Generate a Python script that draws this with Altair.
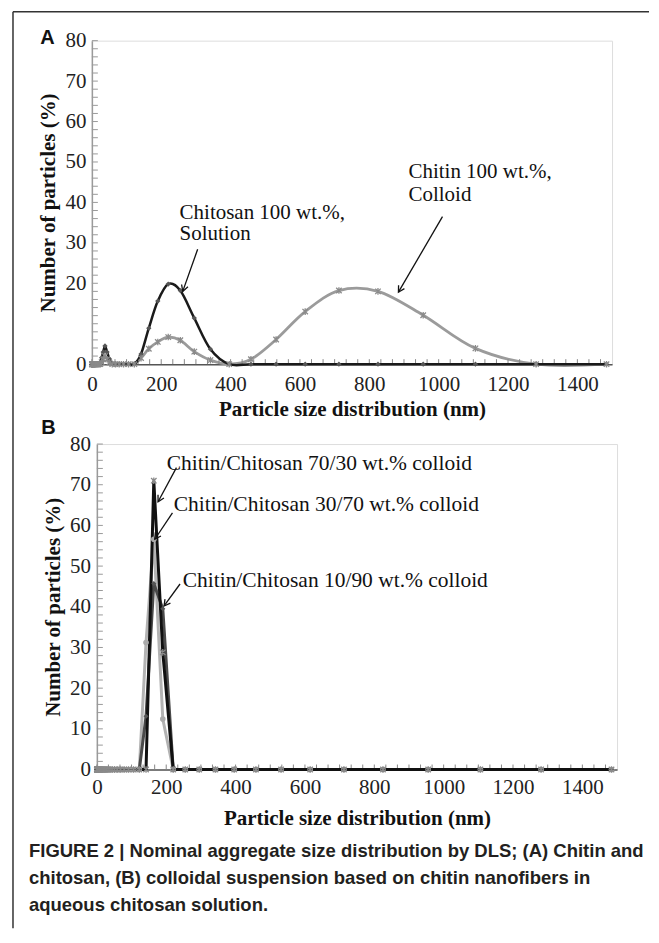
import altair as alt
import pandas as pd

# ---------------- data ----------------
sizes = [0.4, 0.4632, 0.5365, 0.6213, 0.7195, 0.8332, 0.9649, 1.117, 1.294, 1.499,
         1.736, 2.010, 2.328, 2.696, 3.122, 3.615, 4.187, 4.849, 5.615, 6.503,
         7.531, 8.721, 10.10, 11.70, 13.54, 15.69, 18.17, 21.04, 24.36, 28.21,
         32.67, 37.84, 43.82, 50.75, 58.77, 68.06, 78.82, 91.28, 105.7, 122.4,
         141.8, 164.2, 190.1, 220.2, 255.0, 295.3, 342.0, 396.1, 458.7, 531.2,
         615.1, 712.4, 825.0, 955.4, 1106, 1281, 1484]

chitosan_100 = [0, 0, 0, 0, 0, 0, 0, 0, 0, 0,
                0, 0, 0, 0, 0, 0, 0, 0, 0, 0,
                0, 0, 0, 0, 0, 0, 0, 0, 0.5, 1.6,
                3.0, 4.5, 3.0, 1.3, 0.2, 0, 0, 0, 0, 0,
                2.5, 8.9, 15.6, 19.8, 18.2, 11.4, 3.7, 0, 0, 0,
                0, 0, 0, 0, 0, 0, 0]
chitin_100 = [0, 0, 0, 0, 0, 0, 0, 0, 0, 0,
              0, 0, 0, 0, 0, 0, 0, 0, 0, 0,
              0, 0, 0, 0, 0, 0, 0, 0, 0, 0.5,
              1.2, 2.0, 1.2, 0.4, 0, 0, 0, 0, 0, 0,
              1.5, 3.8, 5.5, 6.7, 5.9, 3.1, 1.0, 0, 1.2, 6.1,
              13.0, 18.2, 18.0, 12.1, 3.9, 0, 0]

mix_70_30 = [0, 0, 0, 0, 0, 0, 0, 0, 0, 0,
             0, 0, 0, 0, 0, 0, 0, 0, 0, 0,
             0, 0, 0, 0, 0, 0, 0, 0, 0, 0,
             0, 0, 0, 0, 0, 0, 0, 0, 0, 0,
             0, 71.0, 28.8, 0, 0, 0, 0, 0, 0, 0,
             0, 0, 0, 0, 0, 0, 0]
mix_30_70 = [0, 0, 0, 0, 0, 0, 0, 0, 0, 0,
             0, 0, 0, 0, 0, 0, 0, 0, 0, 0,
             0, 0, 0, 0, 0, 0, 0, 0, 0, 0,
             0, 0, 0, 0, 0, 0, 0, 0, 0, 0,
             31.2, 56.6, 12.4, 0, 0, 0, 0, 0, 0, 0,
             0, 0, 0, 0, 0, 0, 0]
mix_10_90 = [0, 0, 0, 0, 0, 0, 0, 0, 0, 0,
             0, 0, 0, 0, 0, 0, 0, 0, 0, 0,
             0, 0, 0, 0, 0, 0, 0, 0, 0, 0,
             0, 0, 0, 0, 0, 0, 0, 0, 0, 0,
             13.1, 45.7, 39.5, 0, 0, 0, 0, 0, 0, 0,
             0, 0, 0, 0, 0, 0, 0]

x_ticks = [0, 200, 400, 600, 800, 1000, 1200, 1400]
y_ticks = [0, 10, 20, 30, 40, 50, 60, 70, 80]
x_minor = [i * 100 / 3 for i in range(0, 45)]
y_minor = list(range(0, 81, 2))

# annotations (data units)
annA_x = [253, 253, 913, 913]
annA_y = [37.5, 32.1, 47.4, 41.8]
annA_t = ["Chitosan 100 wt.%,", "Solution", "Chitin 100 wt.%,", "Colloid"]
arrA = dict(x=[305, 1011], y=[28.4, 36.5], x2=[262, 884], y2=[18.0, 17.8], ang=[19.6, 30.0])

annB_x = [201.6, 221.7, 247.6]
annB_y = [75.1, 65.0, 46.4]
annB_t = ["Chitin/Chitosan 70/30 wt.% colloid",
          "Chitin/Chitosan 30/70 wt.% colloid",
          "Chitin/Chitosan 10/90 wt.% colloid"]
arrB = dict(x=[229.5, 218.0, 239.8], y=[74.2, 63.1, 45.6],
            x2=[176.5, 167.0, 193.8], y2=[65.8, 56.6, 40.2], ang=[28.4, 33.6, 36.4])

caption = ("FIGURE 2 | Nominal aggregate size distribution by DLS; (A) Chitin and\n"
           "chitosan, (B) colloidal suspension based on chitin nanofibers in\n"
           "aqueous chitosan solution.")

# ---------------- styling helpers ----------------
SERIF = "Liberation Serif"
W = 521
HA = 324
HB = 326
XS = alt.Scale(domain=[0, 1500], nice=False, zero=False)
YS = alt.Scale(domain=[0, 80], nice=False, zero=False)
ASTER = "M-1,-1L1,1M-1,1L1,-1M0,-1.2L0,1.2"
VHEAD = "M-0.55,-1L0,0L0.55,-1"


def series_df(vals):
    return pd.DataFrame({"size": sizes, "pct": vals})


def x_axis(lp, tp):
    return alt.Axis(values=x_ticks, format="d", title="Particle size distribution (nm)", grid=False,
                    ticks=False, labelPadding=lp, titlePadding=tp,
                    labelFont=SERIF, labelFontSize=21, labelColor="#222",
                    titleFont=SERIF, titleFontSize=21, titleFontWeight="bold", titleColor="#111",
                    domainColor="#555", domainWidth=1.5, labelFlush=False, labelOverlap=False)


def y_axis(lp, tp, hide10):
    return alt.Axis(values=y_ticks, format="d", title="Number of particles (%)", grid=False,
                    ticks=False, labelPadding=lp, titlePadding=tp,
                    labelFont=SERIF, labelFontSize=21, labelColor="#222",
                    labelExpr="datum.value == 10 ? '' : datum.label" if hide10 else "datum.label",
                    titleFont=SERIF, titleFontSize=21, titleFontWeight="bold", titleColor="#111",
                    domainColor="#9a9a9a", domainWidth=1.5, labelFlush=False, labelOverlap=False)


def build_panel(h, ax, ay, lines, points, ann_x, ann_y, ann_t, arr, fs, extras):
    X = lambda f: alt.X(f, scale=XS, axis=ax)
    Y = lambda f: alt.Y(f, scale=YS, axis=ay)
    layers = []
    for vals, color, width, interp in lines:
        layers.append(alt.Chart(series_df(vals)).mark_line(
            color=color, strokeWidth=width, interpolate=interp).encode(x=X("size:Q"), y=Y("pct:Q")))
    ym = alt.Chart(pd.DataFrame({"v": y_minor})).mark_rule(color="#9a9a9a", strokeWidth=1).encode(
        y=Y("v:Q"), x=alt.value(0), x2=alt.value(6))
    xm = alt.Chart(pd.DataFrame({"v": x_minor})).mark_rule(color="#888", strokeWidth=1).encode(
        x=X("v:Q"), y=alt.value(h - 5), y2=alt.value(h))
    layers = [layers[0], ym, xm] + layers[1:]
    for vals, color, shape, size, filled, sw in points:
        layers.append(alt.Chart(series_df(vals)).mark_point(
            color=color, shape=shape, size=size, filled=filled, strokeWidth=sw, opacity=1).encode(
            x=X("size:Q"), y=Y("pct:Q")))
    layers.append(alt.Chart(pd.DataFrame({"x": ann_x, "y": ann_y, "t": ann_t})).mark_text(
        align="left", baseline="middle", font=SERIF, fontSize=fs, color="#111").encode(
        x=X("x:Q"), y=Y("y:Q"), text="t:N"))
    adf = pd.DataFrame(arr)
    layers.append(alt.Chart(adf).mark_rule(color="#111", strokeWidth=1.3).encode(
        x=X("x:Q"), y=Y("y:Q"), x2="x2:Q", y2="y2:Q"))
    layers.append(alt.Chart(adf).mark_point(shape=VHEAD, filled=False, size=150, color="#111",
                                            strokeWidth=1.3, opacity=1).encode(
        x=X("x2:Q"), y=Y("y2:Q"), angle=alt.Angle("ang:Q", scale=None)))
    layers += extras
    return alt.layer(*layers).properties(width=W, height=h)


one = pd.DataFrame({"k": [0]})

# ---------------- panel A ----------------
letterA = alt.Chart(pd.DataFrame({"t": ["A"]})).mark_text(
    font="Liberation Sans", fontWeight="bold", fontSize=20, color="#111", baseline="middle",
    align="center").encode(text="t:N", x=alt.value(-44.5), y=alt.value(-3))
frame_v = alt.Chart(one).mark_rule(color="#333", strokeWidth=1.5).encode(
    x=alt.value(-79), y=alt.value(-29), y2=alt.value(889))
frame_h = alt.Chart(one).mark_rule(color="#333", strokeWidth=1.5).encode(
    x=alt.value(-79), x2=alt.value(558), y=alt.value(-29))

panelA = build_panel(
    HA, x_axis(9, 4), y_axis(6, 6, True),
    lines=[(chitin_100, "#9b9b9b", 2.8, "cardinal"), (chitosan_100, "#1a1a1a", 2.5, "cardinal")],
    points=[(chitosan_100, "#555", "diamond", 28, True, 1.0),
            (chitin_100, "#8a8a8a", ASTER, 30, False, 1.3)],
    ann_x=annA_x, ann_y=annA_y, ann_t=annA_t, arr=arrA, fs=21,
    extras=[letterA, frame_v, frame_h])

# ---------------- panel B (plot area starts 5px right of panel A) ----------------
letterB = alt.Chart(pd.DataFrame({"t": ["B"]})).mark_text(
    font="Liberation Sans", fontWeight="bold", fontSize=20, color="#111", baseline="middle",
    align="center").encode(text="t:N", x=alt.value(-48.5), y=alt.value(-16))
cap = alt.Chart(pd.DataFrame({"t": [caption]})).mark_text(
    font="Liberation Sans", fontWeight="bold", fontSize=18.5, color="#231f20",
    align="left", baseline="top", lineBreak="\n", lineHeight=27).encode(
    text="t:N", x=alt.value(-68), y=alt.value(399))

panelB = build_panel(
    HB, x_axis(7, 10), y_axis(6.5, 6, False),
    lines=[(mix_30_70, "#b3b3b3", 3, "linear"), (mix_10_90, "#4a4a4a", 3, "linear"),
           (mix_70_30, "#111", 3, "linear")],
    points=[(mix_30_70, "#aaaaaa", "circle", 32, True, 1.0),
            (mix_10_90, "#555", "diamond", 26, True, 1.0),
            (mix_70_30, "#8a8a8a", ASTER, 30, False, 1.3)],
    ann_x=annB_x, ann_y=annB_y, ann_t=annB_t, arr=arrB, fs=21.5,
    extras=[letterB, cap])

spacer = alt.Chart(one).mark_point(opacity=0).encode(
    x=alt.value(0), y=alt.value(0)
).properties(width=5, height=1, view=alt.ViewBackground(stroke=None))

rowB = alt.hconcat(spacer, panelB, spacing=0, bounds="flush")

chart = alt.vconcat(panelA, rowB, spacing=80, bounds="flush").properties(
    padding={"left": 3, "top": 1, "right": 0, "bottom": 0}
).configure_view(stroke="#707070", strokeWidth=1.5).configure(background="white")

chart.save("out.html", embed_options={"renderer": "svg", "actions": False})
